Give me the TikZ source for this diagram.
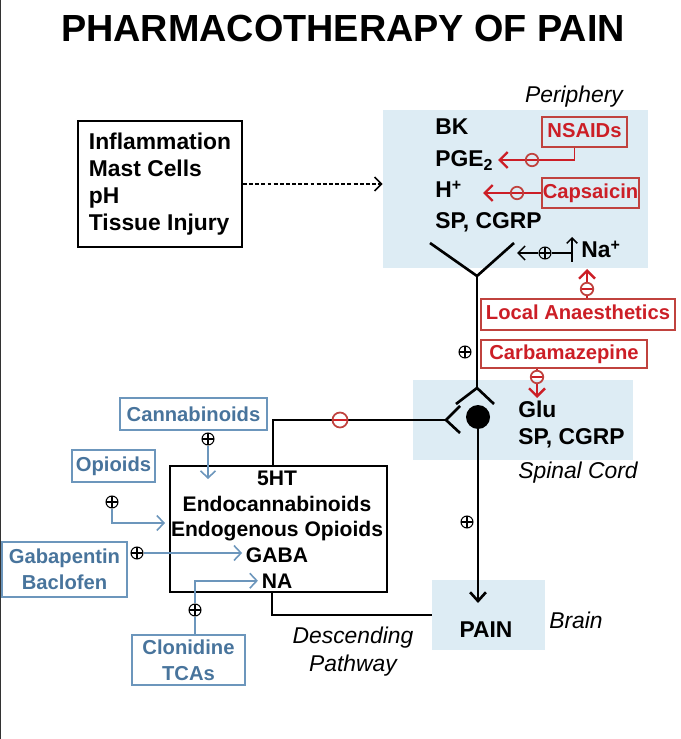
\documentclass[tikz,border=0pt]{standalone}
\usepackage{fontspec}
\setmainfont{Liberation Sans}
\usetikzlibrary{arrows.meta}

\definecolor{cellblue}{RGB}{221,236,244}
\definecolor{drugblue}{RGB}{72,116,156}
\definecolor{lineblue}{RGB}{108,150,188}
\definecolor{drugred}{RGB}{204,30,38}
\definecolor{boxred}{RGB}{192,66,62}

\tikzset{
  txt/.style={font=\bfseries\fontsize{13}{15.5}\selectfont, inner sep=0pt},
  boxtxt/.style={font=\bfseries\fontsize{12}{14.5}\selectfont, inner sep=0pt},
  druglab/.style={font=\bfseries\fontsize{11.5}{14.7}\selectfont},
  ital/.style={font=\itshape\fontsize{13}{15.9}\selectfont, inner sep=0pt},
  region/.style={fill=cellblue, inner sep=0pt},
  redbox/.style={druglab, draw=boxred, line width=0.9pt, text=drugred, inner sep=0pt, text height=8.5pt, text depth=2.5pt},
  bluebox/.style={druglab, draw=lineblue, line width=0.8pt, text=drugblue, inner sep=0pt, align=center},
  pluscirc/.style={circle, draw, line width=0.6pt, inner sep=0pt, minimum size=0.24cm,
    path picture={\draw[line width=0.6pt] (path picture bounding box.west) -- (path picture bounding box.east)
      (path picture bounding box.north) -- (path picture bounding box.south);}},
  minuscirc/.style={circle, draw=boxred, line width=1pt, inner sep=0pt, minimum size=0.25cm,
    path picture={\draw[drugred, line width=1pt] (path picture bounding box.west) -- (path picture bounding box.east);}},
  neuron/.style={line width=1.5pt},
  redline/.style={drugred, line width=1.1pt},
  redarrow/.style={redline, line width=1.4pt, -{Straight Barb[length=4.5pt,width=9pt]}},
  blueline/.style={lineblue, line width=0.9pt},
  bluearrow/.style={blueline, -{Straight Barb[length=4pt,width=8.5pt]}},
}

\begin{document}
\begin{tikzpicture}[x=0.02cm, y=-0.02cm]
	\useasboundingbox (0,0) rectangle (680,739);
	\draw[line width=0.9pt, black!80] (0.5,0) -- (0.5,739);

	\node[font=\bfseries\fontsize{21.5}{25}\selectfont, anchor=base] (title) at (343,42) {PHARMACOTHERAPY OF PAIN};

	\node[region, minimum width=5.3cm, minimum height=3.16cm] (periph) at (515.5,189) {};
	\node[region, minimum width=4.4cm, minimum height=1.6cm] (spinal) at (523,420) {};
	\node[region, minimum width=2.26cm, minimum height=1.4cm] (brain) at (488.5,615) {};
	\node[ital, anchor=base] (perilab) at (574,103) {Periphery};
	\node[ital, anchor=base] (spinlab) at (578,478) {Spinal Cord};
	\node[ital, anchor=base] (brainlab) at (576,628) {Brain};
	\node[ital, align=center] (desclab) at (353,652) {Descending\\Pathway};

	\node[txt, draw, line width=1.1pt, align=left, minimum width=3.28cm, minimum height=2.52cm] (stimuli) at (160,184) {Inflammation\\Mast Cells\\pH\\Tissue Injury};
	\draw[line width=0.9pt, dash pattern=on 2.2pt off 1.3pt, -{Straight Barb[length=4pt,width=8pt]}] (stimuli.east) -- (stimuli.east -| periph.west);

	\node[txt, anchor=base west] (bk) at (435,135) {BK};
	\node[txt, anchor=base west] (pge) at (435,167) {PGE\textsubscript{2}};
	\node[txt, anchor=base west] (hion) at (435,198) {H\textsuperscript{+}};
	\node[txt, anchor=base west] (spper) at (435,229) {SP, CGRP};

	\node[redbox, minimum width=1.7cm, minimum height=0.6cm] (nsaids) at (584.5,132) {NSAIDs};
	\node[minuscirc] (nsaidsm) at (532,160) {};
	\coordinate (pgetip) at (498,160);
	\draw[redline] ([xshift=-0.2cm]nsaids.south) |- (nsaidsm.east);
	\draw[redarrow] (nsaidsm.west) -- (pgetip);

	\node[redbox, minimum width=1.94cm, minimum height=0.6cm] (capsaicin) at (590.5,193) {Capsaicin};
	\node[minuscirc] (capsm) at (517,193) {};
	\coordinate (htip) at (483,193);
	\draw[redline] (capsaicin.west) -- (capsm.east);
	\draw[redarrow] (capsm.west) -- (htip);

	\node[txt, anchor=base west] (na) at (581,258) {Na\textsuperscript{+}};
	\node[pluscirc] (naplus) at (545,253) {};
	\coordinate (nain) at (517,253);
	\coordinate (nalow) at (572,262);
	\coordinate (naup) at (572,237);
	\draw[line width=0.9pt, -{Straight Barb[length=4pt,width=8pt]}] (naplus.west) -- (nain);
	\draw[line width=0.9pt] (naplus.east) -- (nalow |- naplus);
	\draw[line width=0.9pt, -{Straight Barb[length=3pt,width=6pt]}] (nalow) -- (naup);

	\node[redbox, minimum width=3.88cm, minimum height=0.62cm] (localan) at (578,314.5) {Local Anaesthetics};
	\node[minuscirc] (localm) at (587,289) {};
	\coordinate (latip) at (587,269);
	\draw[redline] (localm.south) -- (localm.south |- localan.north);
	\draw[redarrow] (localm.north) -- (latip);

	\node[redbox, minimum width=3.32cm, minimum height=0.56cm] (carba) at (564,354) {Carbamazepine};
	\node[minuscirc] (carbam) at (537,377) {};
	\coordinate (glutip) at (537,398);
	\draw[redline] (carbam.north) -- (carbam.north |- carba.south);
	\draw[redarrow] (carbam.south) -- (glutip);

	\node[txt, anchor=base west] (glu) at (518,417) {Glu};
	\node[txt, anchor=base west] (spcord) at (518,444) {SP, CGRP};
	\node[txt, anchor=base] (pain) at (486,637) {PAIN};

	\coordinate (ylt) at (430,243);
	\coordinate (yrt) at (514,243);
	\coordinate (yjoint) at (477,276);
	\coordinate (apex) at (477,388);
	\coordinate (apexl) at (456,404);
	\coordinate (apexr) at (494,404);
	\node[circle, fill, minimum size=0.48cm, inner sep=0pt] (soma) at (478,417) {};
	\coordinate (fork) at (446,420);
	\coordinate (forkt) at (460,406);
	\coordinate (forkb) at (460,433);
	\coordinate (intop) at (273,466);
	\coordinate (paintip) at (478,603);
	\draw[neuron] (ylt) -- (yjoint) -- (yrt);
	\draw[neuron] (yjoint) -- (apex);
	\draw[neuron] (apexl) -- (apex) -- (apexr);
	\draw[neuron] (forkt) -- (fork) -- (forkb);
	\draw[neuron] (fork) -| (intop);
	\draw[neuron, -{Straight Barb[length=5pt,width=9pt]}] (soma) -- (paintip);
	\node[pluscirc] (cordplus) at (465,352) {};
	\node[pluscirc] (painplus) at (467,522) {};
	\node[minuscirc, fill=white, minimum size=0.3cm] (descm) at (340,420) {};

	\node[draw, line width=1.1pt, minimum width=4.34cm, minimum height=2.52cm] (modbox) at (278.5,529) {};
	\node[boxtxt, anchor=base] (sht) at (277,485) {5HT};
	\node[boxtxt, anchor=base] (endocan) at (277,511) {Endocannabinoids};
	\node[boxtxt, anchor=base] (endoop) at (277,536) {Endogenous Opioids};
	\node[boxtxt, anchor=base] (gaba) at (277,562) {GABA};
	\node[boxtxt, anchor=base] (nad) at (277,588) {NA};
	\coordinate (descout) at (272,592);
	\draw[neuron] (descout) |- (brain.west);

	\node[bluebox, minimum width=2.94cm, minimum height=0.64cm] (cannab) at (193.5,414) {Cannabinoids};
	\node[pluscirc] (cannabp) at (208,439) {};
	\coordinate (cannabtip) at (208,479);
	\draw[bluearrow] (cannabp.south) -- (cannabtip);

	\node[bluebox, minimum width=1.66cm, minimum height=0.64cm] (opioids) at (113.5,466) {Opioids};
	\node[pluscirc] (opioidsp) at (112,502) {};
	\coordinate (opioidtip) at (165,523);
	\draw[bluearrow] (opioidsp.south) |- (opioidtip);

	\node[bluebox, minimum width=2.5cm, minimum height=1.1cm] (gabapentin) at (64.5,569.5) {Gabapentin\\Baclofen};
	\node[pluscirc] (gabap) at (137,553) {};
	\draw[bluearrow, shorten >=2pt] (gabap.east) -- (gabap -| gaba.west);

	\node[bluebox, minimum width=2.26cm, minimum height=1.0cm] (clonidine) at (188.5,660) {Clonidine\\TCAs};
	\node[pluscirc] (clonp) at (195,610) {};
	\draw[blueline] (clonp.south) -- (clonp |- clonidine.north);
	\draw[bluearrow, shorten >=2pt] (clonp.north) |- (nad.west);
\end{tikzpicture}
\end{document}
